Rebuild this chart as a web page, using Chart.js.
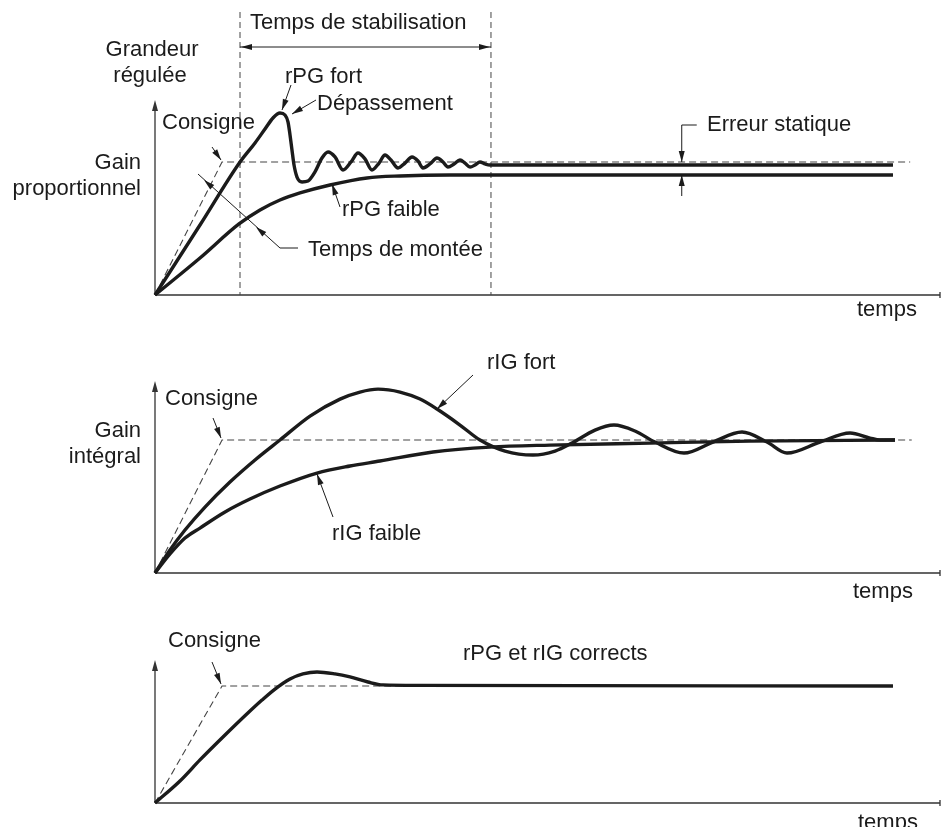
<!DOCTYPE html>
<html>
<head>
<meta charset="utf-8">
<script src="https://cdn.jsdelivr.net/npm/chart.js@4.4.1/dist/chart.umd.min.js"></script>
<style>
  html, body { margin: 0; padding: 0; background: #fff; }
  #wrap { position: relative; width: 941px; height: 827px; overflow: hidden; }
  canvas { position: absolute; left: 0; }
</style>
</head>
<body>
<div id="wrap">
  <canvas id="p1" width="941" height="322" style="top:0px"></canvas>
  <canvas id="p2" width="941" height="280" style="top:322px"></canvas>
  <canvas id="p3" width="941" height="225" style="top:602px"></canvas>
</div>
<script>
// temps : 0..100 (unités arbitraires), grandeur : consigne = 1

// --- gain proportionnel ---
const consigne1T = [0, 8.54, 96.2];
const consigne1V = [0, 1, 1];
const rpgFortT = [0, 5.73, 10.83, 12.74, 14.01, 15.03, 15.92, 16.56, 16.94, 17.20, 17.45, 17.71, 18.09, 18.73, 19.49,
    20.38, 21.27, 22.04, 22.93, 23.95, 24.97, 25.86, 26.75, 27.64, 28.54, 29.30, 30.06, 30.96, 31.85, 32.74, 33.50,
    34.14, 35.03, 35.92, 36.69, 37.32, 38.09, 38.85, 39.49, 40.13, 40.76, 41.40, 42.04, 42.68, 94.01];
const rpgFortV = [0, 0.526, 1.0, 1.143, 1.248, 1.331, 1.368, 1.353, 1.301, 1.203, 1.090, 0.977, 0.887, 0.850, 0.857,
    0.925, 1.030, 1.075, 1.038, 0.940, 1.0, 1.068, 1.023, 0.940, 0.992, 1.053, 1.015, 0.955, 0.992, 1.038, 1.008,
    0.955, 0.985, 1.030, 1.0, 0.962, 0.985, 1.015, 0.992, 0.962, 0.977, 1.0, 0.985, 0.977, 0.977];
const rpgFaibleT = [0, 5.73, 10.70, 13.38, 15.92, 18.47, 22.29, 27.01, 31.21, 37.58, 94.01];
const rpgFaibleV = [0, 0.278, 0.534, 0.639, 0.714, 0.767, 0.827, 0.880, 0.895, 0.902, 0.902];
const stabilisation = [10.83, 42.8];
const erreurStatiqueT = 67.1;

// --- gain intégral ---
const consigne2T = [0, 8.54, 96.4];
const consigne2V = [0, 1, 1];
const rigFortT = [0, 1.91, 3.82, 6.37, 9.55, 12.74, 15.92, 19.75, 23.57, 26.11, 28.41, 31.21, 33.76, 35.92, 38.85,
    41.40, 44.59, 48.15, 50.96, 53.12, 56.05, 58.47, 61.15, 63.69, 67.39, 71.08, 74.78, 77.96, 80.51, 84.71, 88.54,
    91.08, 92.36, 94.27];
const rigFortV = [0, 0.173, 0.323, 0.496, 0.684, 0.850, 1.0, 1.180, 1.308, 1.361, 1.383, 1.361, 1.308, 1.233, 1.113,
    1.0, 0.917, 0.887, 0.917, 0.977, 1.075, 1.113, 1.068, 0.985, 0.902, 0.985, 1.060, 0.985, 0.902, 0.985, 1.053,
    1.015, 1.0, 1.0];
const rigFaibleT = [0, 1.91, 3.82, 5.73, 8.92, 12.10, 15.92, 20.64, 24.84, 28.66, 35.41, 42.68, 50.32, 63.06, 75.80, 94.27];
const rigFaibleV = [0, 0.143, 0.263, 0.338, 0.459, 0.556, 0.654, 0.752, 0.805, 0.842, 0.910, 0.947, 0.962, 0.977, 0.992, 1.0];

// --- réglage correct ---
const consigne3T = [0, 8.54, 94.0];
const consigne3V = [0, 1, 1];
const correctT = [0, 3.18, 5.73, 8.92, 12.10, 13.63, 15.29, 17.20, 18.85, 20.64, 22.93, 24.84, 27.13, 29.04, 33.76, 94.01];
const correctV = [0, 0.188, 0.368, 0.581, 0.786, 0.880, 0.974, 1.060, 1.103, 1.120, 1.103, 1.077, 1.034, 1.009, 1.005, 1.0];

const INK = '#1b1b1b';
const GREY = '#444';
const FONT = '22px "Liberation Sans", Arial, sans-serif';

function pts( t, v ) {
    return t.map( ( x, i ) => ( { x: x, y: v[ i ] } ) );
}
function curve( t, v ) {
    return {
        data: pts( t, v ), borderColor: INK, borderWidth: 3.4, pointRadius: 0,
        cubicInterpolationMode: 'monotone', fill: false, clip: false, order: 1
    };
}
function dashed( t, v ) {
    return {
        data: pts( t, v ), borderColor: GREY, borderWidth: 1.1, borderDash: [ 7, 4 ], pointRadius: 0,
        tension: 0, fill: false, clip: false, order: 2
    };
}

function head( ctx, x0, y0, x1, y1 ) {
    const a = Math.atan2( y1 - y0, x1 - x0 ), len = 11, half = 3;
    ctx.beginPath();
    ctx.moveTo( x1, y1 );
    ctx.lineTo( x1 - len * Math.cos( a ) + half * Math.sin( a ), y1 - len * Math.sin( a ) - half * Math.cos( a ) );
    ctx.lineTo( x1 - len * Math.cos( a ) - half * Math.sin( a ), y1 - len * Math.sin( a ) + half * Math.cos( a ) );
    ctx.closePath();
    ctx.fill();
}

const diagram = {
    id: 'diagram',
    beforeDatasetsDraw( chart, args, opts ) {
        const ctx = chart.ctx, a = chart.chartArea, off = opts.top;
        ctx.save();
        // axes
        ctx.strokeStyle = '#333'; ctx.fillStyle = '#333'; ctx.lineWidth = 1.3;
        ctx.beginPath();
        ctx.moveTo( a.left, a.bottom ); ctx.lineTo( a.left, a.top + 4 );
        ctx.moveTo( a.left, a.bottom ); ctx.lineTo( a.right, a.bottom );
        ctx.moveTo( a.right, a.bottom - 3 ); ctx.lineTo( a.right, a.bottom + 3 );
        ctx.stroke();
        head( ctx, a.left, a.bottom, a.left, a.top );
        // temps de stabilisation
        if ( opts.stab ) {
            const x = chart.scales.x;
            const xs = opts.stab.map( v => x.getPixelForValue( v ) );
            ctx.setLineDash( [ 6, 4 ] ); ctx.lineWidth = 1; ctx.strokeStyle = GREY;
            ctx.beginPath();
            xs.forEach( px => { ctx.moveTo( px, 12 - off ); ctx.lineTo( px, a.bottom ); } );
            ctx.stroke();
            ctx.setLineDash( [] ); ctx.strokeStyle = INK; ctx.fillStyle = INK;
            ctx.beginPath(); ctx.moveTo( xs[ 0 ], 47 - off ); ctx.lineTo( xs[ 1 ], 47 - off ); ctx.stroke();
            head( ctx, xs[ 1 ], 47 - off, xs[ 0 ] + 1, 47 - off );
            head( ctx, xs[ 0 ], 47 - off, xs[ 1 ] - 1, 47 - off );
        }
        ctx.restore();
    },
    afterDraw( chart, args, opts ) {
        const ctx = chart.ctx, off = opts.top;
        ctx.save();
        ctx.strokeStyle = INK; ctx.fillStyle = INK; ctx.lineWidth = 1;
        ( opts.lines || [] ).forEach( l => {
            ctx.beginPath();
            l.path.forEach( ( p, i ) => i ? ctx.lineTo( p[ 0 ], p[ 1 ] - off ) : ctx.moveTo( p[ 0 ], p[ 1 ] - off ) );
            ctx.stroke();
            ( l.heads || [] ).forEach( h => head( ctx, h[ 0 ], h[ 1 ] - off, h[ 2 ], h[ 3 ] - off ) );
        } );
        if ( opts.erreur !== undefined ) {
            const px = chart.scales.x.getPixelForValue( opts.erreur );
            ctx.beginPath();
            ctx.moveTo( px + 15, 125 - off ); ctx.lineTo( px, 125 - off ); ctx.lineTo( px, 162 - off );
            ctx.moveTo( px, 196 - off ); ctx.lineTo( px, 175 - off );
            ctx.stroke();
            head( ctx, px, 140 - off, px, 162 - off );
            head( ctx, px, 196 - off, px, 175 - off );
        }
        ctx.font = FONT; ctx.textBaseline = 'alphabetic';
        ( opts.texts || [] ).forEach( t => {
            ctx.textAlign = t.align || 'left';
            ctx.fillText( t.s, t.x, t.y - off );
        } );
        ctx.restore();
    }
};

function makeChart( id, top, height, origin, yMax, datasets, notes ) {
    notes.top = top;
    return new Chart( document.getElementById( id ).getContext( '2d' ), {
        type: 'line',
        data: { datasets: datasets },
        options: {
            responsive: false, animation: false, parsing: false,
            layout: { padding: { left: 155, right: 1, top: origin.top - top, bottom: top + height - origin.bottom } },
            scales: {
                x: { type: 'linear', min: 0, max: 100, display: false },
                y: { type: 'linear', min: 0, max: yMax, display: false }
            },
            plugins: { legend: { display: false }, tooltip: { enabled: false }, diagram: notes }
        },
        plugins: [ diagram ]
    } );
}

makeChart( 'p1', 0, 322, { top: 100, bottom: 295 }, 1.466, [
    dashed( consigne1T, consigne1V ),
    curve( rpgFaibleT, rpgFaibleV ),
    curve( rpgFortT, rpgFortV )
], {
    stab: stabilisation,
    erreur: erreurStatiqueT,
    lines: [
        { path: [ [ 212, 147 ], [ 221, 160 ] ], heads: [ [ 212, 147, 221, 160 ] ] },
        { path: [ [ 291, 85 ], [ 282, 110 ] ], heads: [ [ 291, 85, 282, 110 ] ] },
        { path: [ [ 316, 100 ], [ 292, 114 ] ], heads: [ [ 316, 100, 292, 114 ] ] },
        { path: [ [ 340, 207 ], [ 332, 184 ] ], heads: [ [ 340, 207, 332, 184 ] ] },
        { path: [ [ 298, 248 ], [ 280, 248 ], [ 198, 174 ] ], heads: [ [ 230, 203, 204, 180 ], [ 280, 248, 256, 227 ] ] }
    ],
    texts: [
        { s: 'Temps de stabilisation', x: 250, y: 29 },
        { s: 'Grandeur', x: 152, y: 56, align: 'center' },
        { s: 'régulée', x: 150, y: 82, align: 'center' },
        { s: 'Consigne', x: 162, y: 129 },
        { s: 'Gain', x: 141, y: 169, align: 'right' },
        { s: 'proportionnel', x: 141, y: 195, align: 'right' },
        { s: 'rPG fort', x: 285, y: 83 },
        { s: 'Dépassement', x: 317, y: 110 },
        { s: 'rPG faible', x: 342, y: 216 },
        { s: 'Temps de montée', x: 308, y: 256 },
        { s: 'Erreur statique', x: 707, y: 131 },
        { s: 'temps', x: 857, y: 316 }
    ]
} );

makeChart( 'p2', 322, 280, { top: 381, bottom: 573 }, 1.444, [
    dashed( consigne2T, consigne2V ),
    curve( rigFaibleT, rigFaibleV ),
    curve( rigFortT, rigFortV )
], {
    lines: [
        { path: [ [ 213, 418 ], [ 221, 438 ] ], heads: [ [ 213, 418, 221, 438 ] ] },
        { path: [ [ 473, 375 ], [ 437, 409 ] ], heads: [ [ 473, 375, 437, 409 ] ] },
        { path: [ [ 333, 517 ], [ 317, 474 ] ], heads: [ [ 333, 517, 317, 474 ] ] }
    ],
    texts: [
        { s: 'Consigne', x: 165, y: 405 },
        { s: 'Gain', x: 141, y: 437, align: 'right' },
        { s: 'intégral', x: 141, y: 463, align: 'right' },
        { s: 'rIG fort', x: 487, y: 369 },
        { s: 'rIG faible', x: 332, y: 540 },
        { s: 'temps', x: 853, y: 598 }
    ]
} );

makeChart( 'p3', 602, 225, { top: 660, bottom: 803 }, 1.222, [
    dashed( consigne3T, consigne3V ),
    curve( correctT, correctV )
], {
    lines: [
        { path: [ [ 212, 662 ], [ 221, 684 ] ], heads: [ [ 212, 662, 221, 684 ] ] }
    ],
    texts: [
        { s: 'Consigne', x: 168, y: 647 },
        { s: 'rPG et rIG corrects', x: 463, y: 660 },
        { s: 'temps', x: 858, y: 829 }
    ]
} );
</script>
</body>
</html>
